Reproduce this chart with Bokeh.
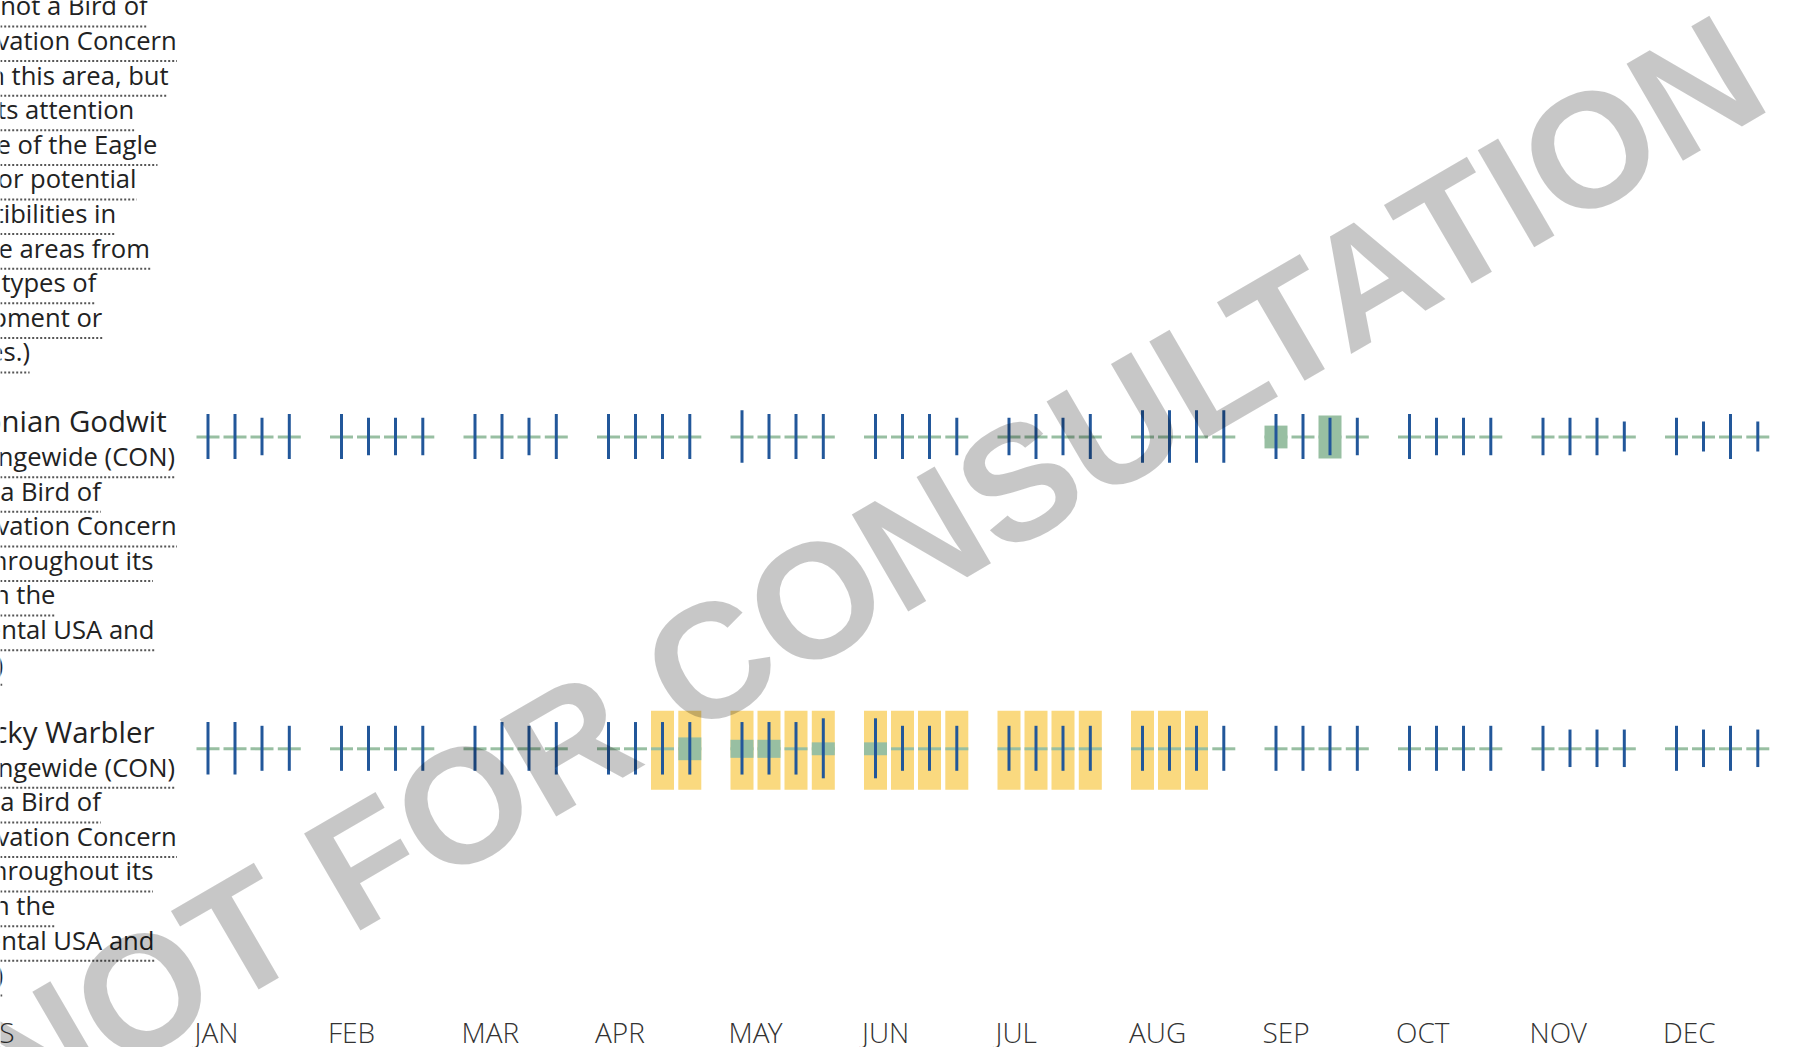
from bokeh.plotting import figure
from bokeh.models import Range1d, ColumnDataSource
from bokeh.core.properties import value
from bokeh.embed import file_html
from bokeh.resources import INLINE

# ---------------- data ----------------
months = ["JAN", "FEB", "MAR", "APR", "MAY", "JUN", "JUL", "AUG", "SEP", "OCT", "NOV", "DEC"]
footer_label = "SPECIES"

species = ["Hudsonian Godwit", "Kentucky Warbler"]

# probability of presence index (0-10), 4 weeks per month
godwit_prob = [0, 0, 0, 0,  0, 0, 0, 0,  0, 0, 0, 0,  0, 0, 0, 0,
               0, 0, 0, 0,  0, 0, 0, 0,  0, 0, 0, 0,  0, 0, 0, 0,
               5.3, 0, 10, 0,  0, 0, 0, 0,  0, 0, 0, 0,  0, 0, 0, 0]
warbler_prob = [0, 0, 0, 0,  0, 0, 0, 0,  0, 0, 0, 0,  0, 0, 0, 5.3,
                4.2, 4.2, 0, 3.0,  3.0, 0, 0, 0,  0, 0, 0, 0,  0, 0, 0, 0,
                0, 0, 0, 0,  0, 0, 0, 0,  0, 0, 0, 0,  0, 0, 0, 0]

# survey effort level (1-5)
godwit_effort = [3, 3, 2, 3,  3, 2, 2, 2,  3, 3, 2, 3,  3, 3, 3, 3,
                 4, 3, 3, 3,  3, 3, 3, 2,  2, 3, 2, 3,  4, 4, 4, 4,
                 3, 3, 2, 2,  3, 2, 2, 2,  2, 2, 2, 1,  2, 1, 3, 1]
warbler_effort = [4, 4, 3, 3,  3, 3, 3, 3,  3, 4, 3, 4,  4, 4, 4, 4,
                  4, 4, 4, 5,  5, 3, 3, 3,  3, 3, 3, 3,  3, 3, 3, 3,
                  3, 3, 3, 3,  3, 3, 3, 3,  3, 2, 2, 2,  3, 2, 3, 2]

# breeding season (1 = yes)
godwit_breeding = [0, 0, 0, 0,  0, 0, 0, 0,  0, 0, 0, 0,  0, 0, 0, 0,
                   0, 0, 0, 0,  0, 0, 0, 0,  0, 0, 0, 0,  0, 0, 0, 0,
                   0, 0, 0, 0,  0, 0, 0, 0,  0, 0, 0, 0,  0, 0, 0, 0]
warbler_breeding = [0, 0, 0, 0,  0, 0, 0, 0,  0, 0, 0, 0,  0, 0, 1, 1,
                    1, 1, 1, 1,  1, 1, 1, 1,  1, 1, 1, 1,  1, 1, 1, 0,
                    0, 0, 0, 0,  0, 0, 0, 0,  0, 0, 0, 0,  0, 0, 0, 0]

prev_notes = ["(This is not a Bird of", "Conservation Concern", "(BCC) in this area, but",
              "warrants attention", "because of the Eagle", "Act or for potential",
              "susceptibilities in", "offshore areas from", "certain types of",
              "development or", "activities.)"]
bcc_notes = ["BCC Rangewide (CON)", "(This is a Bird of", "Conservation Concern",
             "(BCC) throughout its", "range in the", "continental USA and", "Alaska.)"]

watermark = "NOT FOR CONSULTATION"

# ---------------- layout helpers ----------------
OPEN_SANS = {' ': 532, '(': 582, ')': 582, ',': 502, '.': 545,
             'A': 1296, 'B': 1327, 'C': 1292, 'D': 1493, 'E': 1139, 'F': 1057, 'G': 1491,
             'H': 1511, 'I': 571, 'K': 1257, 'L': 1063, 'N': 1544, 'O': 1595, 'R': 1266,
             'S': 1124, 'T': 1133, 'U': 1491, 'W': 1896,
             'a': 1137, 'b': 1255, 'c': 975, 'd': 1255, 'e': 1149, 'f': 694, 'g': 1122,
             'h': 1257, 'i': 518, 'k': 1075, 'l': 518, 'm': 1905, 'n': 1257, 'o': 1237,
             'p': 1255, 'r': 836, 's': 977, 't': 723, 'u': 1257, 'v': 1026, 'w': 1593,
             'y': 1028}


def text_width(s, size):
    return sum(OPEN_SANS.get(ch, 1150) for ch in s) / 2048.0 * size


TEXT_X = -88.3
TEXT_DY = -10.0          # correction for the renderer's baseline placement
DESC_SIZE = 25.6
NAME_SIZE = 29.4
LINE_H = 34.6
UL_OFF = 10.7

MONTH_X0 = 196.0
MONTH_STEP = 133.5
WEEK_OFF = [0.0, 27.0, 54.0, 81.3]
CELL_W = 23.0
ROW_Y = [436.5, 748.3]

GREEN = "#98bfa2"
BLUE = "#22579a"
YELLOW = "#fad97f"

W, H = 1783, 1047
p = figure(width=W, height=H, x_range=Range1d(0, W), y_range=Range1d(H, 0),
           output_backend="svg", toolbar_location=None, min_border=0,
           x_axis_type=None, y_axis_type=None)
p.grid.visible = False
p.outline_line_color = None
p.background_fill_color = "white"
p.border_fill_color = "white"

rows = [(godwit_prob, godwit_effort, godwit_breeding),
        (warbler_prob, warbler_effort, warbler_breeding)]

yel = dict(x=[], y=[])
dash = dict(x=[], y=[])
box = dict(x=[], y=[], h=[])
bar = dict(x=[], y=[], h=[])
for r, (prob, effort, breed) in enumerate(rows):
    yc = ROW_Y[r]
    for i in range(48):
        m, k = divmod(i, 4)
        xc = MONTH_X0 + MONTH_STEP * m + WEEK_OFF[k] + CELL_W / 2
        if breed[i]:
            yel["x"].append(xc); yel["y"].append(yc + 1.5)
        dash["x"].append(xc); dash["y"].append(yc)
        if prob[i] > 0:
            box["x"].append(xc); box["y"].append(yc); box["h"].append(prob[i] * 4.3)
        bar["x"].append(xc); bar["y"].append(yc - 0.5); bar["h"].append(22.5 + 7.5 * effort[i])

p.rect(x="x", y="y", width=CELL_W, height=79, source=ColumnDataSource(yel),
       fill_color=YELLOW, line_color=None)
p.rect(x="x", y="y", width=CELL_W, height=3, source=ColumnDataSource(dash),
       fill_color=GREEN, line_color=None)
p.rect(x="x", y="y", width=CELL_W, height="h", source=ColumnDataSource(box),
       fill_color=GREEN, line_color=None)
p.rect(x="x", y="y", width=3, height="h", source=ColumnDataSource(bar),
       fill_color=BLUE, line_color=None)

# ---------------- left column texts ----------------
desc = dict(x=[], y=[], t=[])
ul = dict(x0=[], x1=[], y=[])


def add_lines(lines, first_baseline):
    for j, line in enumerate(lines):
        yb = first_baseline + LINE_H * j
        desc["x"].append(TEXT_X); desc["y"].append(yb + TEXT_DY); desc["t"].append(line)
        ul["x0"].append(TEXT_X); ul["x1"].append(TEXT_X + text_width(line, DESC_SIZE))
        ul["y"].append(yb + UL_OFF)


add_lines(prev_notes, 15.3)
add_lines(bcc_notes, 466.0)
add_lines(bcc_notes, 776.6)

p.segment(x0="x0", y0="y", x1="x1", y1="y", source=ColumnDataSource(ul),
          line_color="#555555", line_width=2, line_dash="2 2")
p.text(x="x", y="y", text="t", source=ColumnDataSource(desc),
       text_font=value("Open Sans"), text_font_size=value(f"{DESC_SIZE}px"),
       text_color="#222222", text_baseline="alphabetic", text_align="left")

p.text(x=[TEXT_X, TEXT_X], y=[430.0 + TEXT_DY, 741.7 + TEXT_DY], text=species,
       text_font=value("Open Sans"), text_font_size=value(f"{NAME_SIZE}px"),
       text_color="#222222", text_baseline="alphabetic", text_align="left")

# footer row
light = value("Open Sans Light, Lato Light, Open Sans")
LABEL_Y = 1041.7 + TEXT_DY
p.text(x=[TEXT_X], y=[LABEL_Y], text=[footer_label], text_font=light,
       text_font_size=value("28px"), text_color="#333333", text_baseline="alphabetic")
p.text(x=[MONTH_X0 - 2 + MONTH_STEP * m for m in range(12)], y=[LABEL_Y] * 12, text=months,
       text_font=light, text_font_size=value("28px"), text_color="#333333",
       text_baseline="alphabetic", text_align="left")

# watermark
p.text(x=[866], y=[570], text=[watermark], angle=30.2, angle_units="deg",
       text_align="center", text_baseline="middle",
       text_font=value("Liberation Sans"), text_font_size=value("163px"),
       text_font_style="bold", text_color="black", text_alpha=0.22)

open("out.html", "w").write(file_html(p, INLINE))
